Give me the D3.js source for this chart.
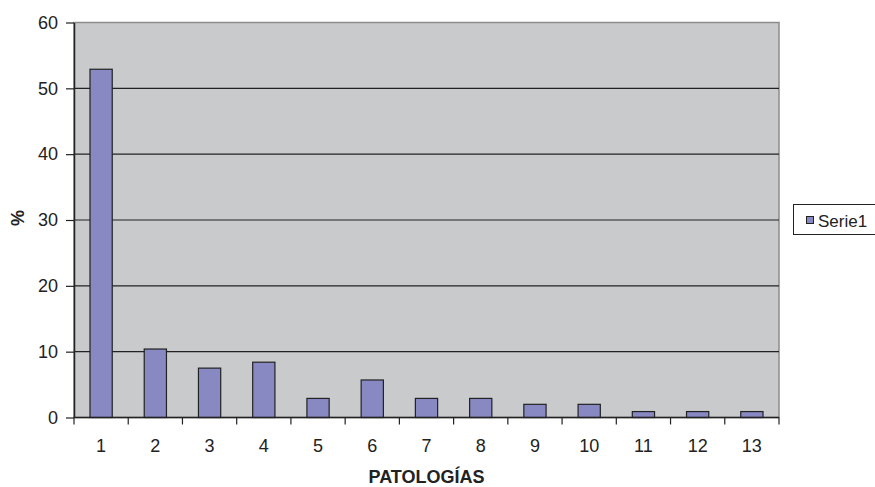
<!DOCTYPE html>
<html><head><meta charset="utf-8">
<script src="https://cdn.jsdelivr.net/npm/d3@7"></script>
<style>body{margin:0;background:#fff}svg{display:block}</style>
</head><body>
<svg id="c" width="875" height="487"></svg>
<script>
const categories = ["1","2","3","4","5","6","7","8","9","10","11","12","13"];
const values = [52.9, 10.4, 7.5, 8.4, 2.9, 5.7, 2.9, 2.9, 2.0, 2.0, 0.9, 0.9, 0.9];
const yTicks = [0, 10, 20, 30, 40, 50, 60];
const seriesName = "Serie1";

const svg = d3.select("#c");
const font = "'Liberation Sans', Arial, sans-serif";
const L = 74, R = 779, T = 22.5, B = 417.5;

const x = d3.scaleBand().domain(categories).range([L, R]).paddingInner(0.59).paddingOuter(0.295);
const xb = d3.scaleBand().domain(categories).range([L, R]);
const y = d3.scaleLinear().domain([0, 60]).range([B, T]);

svg.append("rect").attr("x", L).attr("y", T).attr("width", R - L).attr("height", B - T)
  .attr("fill", "#c9cacc").attr("stroke", "#8c8c8c").attr("stroke-width", 1.5);

// gridlines
svg.append("g").selectAll("line").data(yTicks.filter(d => d > 0 && d < 60)).join("line")
  .attr("x1", L).attr("x2", R).attr("y1", d => y(d)).attr("y2", d => y(d))
  .attr("stroke", "#222").attr("stroke-width", 1.2);

// bars
svg.append("g").selectAll("rect").data(values).join("rect")
  .attr("x", (d, i) => x(categories[i])).attr("width", x.bandwidth())
  .attr("y", d => y(d)).attr("height", d => B - y(d))
  .attr("fill", "#8888c2").attr("stroke", "#222").attr("stroke-width", 1.2);

// y axis
const yAxis = d3.axisLeft(y).tickValues(yTicks).tickSize(8).tickSizeOuter(0).tickPadding(8);
const gy = svg.append("g").attr("transform", `translate(${L},0)`).call(yAxis);
gy.select(".domain").attr("stroke", "#222").attr("stroke-width", 1.5);
gy.selectAll(".tick line").attr("stroke", "#222").attr("stroke-width", 1.2);
gy.selectAll("text").attr("font-family", font).attr("font-size", 18).attr("fill", "#222");

// x axis line + ticks at boundaries
const gx = svg.append("g");
gx.append("line").attr("x1", L).attr("x2", R).attr("y1", B).attr("y2", B)
  .attr("stroke", "#222").attr("stroke-width", 1.5);
const bounds = categories.map(c => xb(c)).concat([R]);
gx.selectAll("line.t").data(bounds).join("line").attr("class", "t")
  .attr("x1", d => d).attr("x2", d => d).attr("y1", B).attr("y2", B + 7)
  .attr("stroke", "#222").attr("stroke-width", 1.2);
gx.selectAll("text").data(categories).join("text")
  .attr("x", d => xb(d) + xb.bandwidth() / 2).attr("y", 452)
  .attr("text-anchor", "middle").attr("font-family", font).attr("font-size", 18).attr("fill", "#222")
  .text(d => d);

// axis titles
svg.append("text").attr("x", (L + R) / 2).attr("y", 482.5).attr("text-anchor", "middle")
  .attr("font-family", font).attr("font-size", 18).attr("font-weight", "bold").attr("fill", "#222")
  .text("PATOLOGÍAS");
svg.append("text").attr("transform", "translate(24,218) rotate(-90)").attr("text-anchor", "middle")
  .attr("font-family", font).attr("font-size", 18).attr("font-weight", "bold").attr("fill", "#222")
  .text("%");

// legend
const lg = svg.append("g");
lg.append("rect").attr("x", 793.5).attr("y", 204.5).attr("width", 90).attr("height", 30)
  .attr("fill", "#fff").attr("stroke", "#222").attr("stroke-width", 1);
lg.append("rect").attr("x", 806.5).attr("y", 216.5).attr("width", 7).attr("height", 7)
  .attr("fill", "#8888c2").attr("stroke", "#222").attr("stroke-width", 1);
lg.append("text").attr("x", 818).attr("y", 227).attr("font-family", font).attr("font-size", 17)
  .attr("fill", "#222").text(seriesName);
</script>
</body></html>
